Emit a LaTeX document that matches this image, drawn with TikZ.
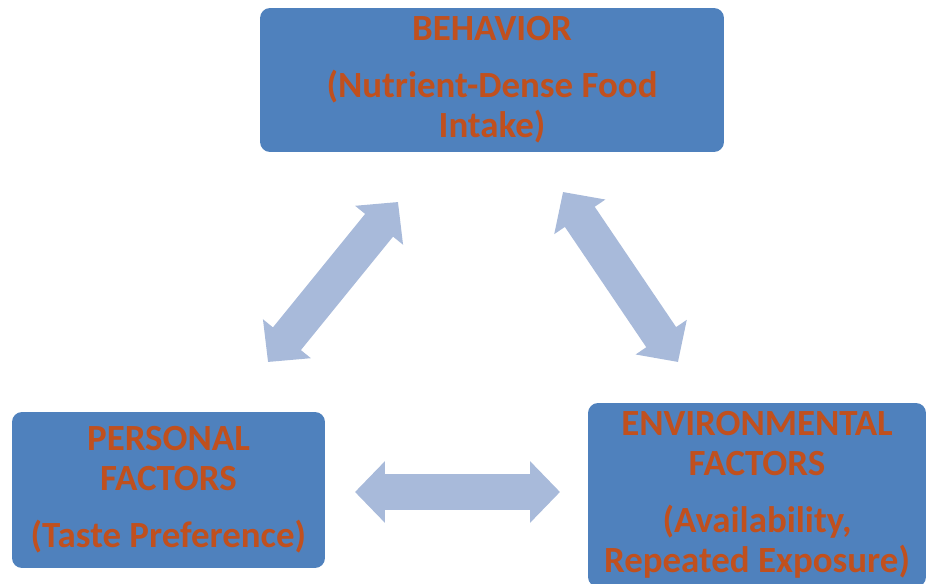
\documentclass[tikz,border=0pt]{standalone}
\usepackage{fontspec}
\setmainfont{Carlito}
\usetikzlibrary{arrows.meta}
\definecolor{boxblue}{RGB}{79,129,189}
\definecolor{txtorange}{RGB}{192,80,30}
\definecolor{arrowblue}{RGB}{168,186,218}
\tikzset{
    factor/.style={rounded corners=0.2cm, fill=boxblue, text=txtorange, align=center,
        font=\bfseries\fontsize{21}{22.8}\selectfont, inner sep=0pt},
    twoway/.style={draw=arrowblue, line width=0.72cm,
        {Triangle[length=0.6cm,width=1.2cm]}-{Triangle[length=0.6cm,width=1.2cm]}}
}
\begin{document}
\begin{tikzpicture}[x=0.02cm,y=-0.02cm]
        \useasboundingbox (0,0) rectangle (926,584);
        \node [factor, minimum width=9.28cm, minimum height=2.88cm] (behavior) at (492,80)
            {BEHAVIOR\\[0.34cm](Nutrient-Dense Food\\Intake)};
        \node [factor, minimum width=6.26cm, minimum height=3.12cm] (personal) at (168.5,490)
            {PERSONAL\\FACTORS\\[0.34cm](Taste Preference)};
        \node [factor, minimum width=6.76cm, minimum height=3.68cm] (environ) at (757,495)
            {ENVIRONMENTAL\\FACTORS\\[0.34cm](Availability,\\Repeated Exposure)};
        % arrow ends
        \coordinate (bp) at (398,202);
        \coordinate (pb) at (268,362);
        \coordinate (be) at (563,192);
        \coordinate (eb) at (678,362);
        \coordinate (pe) at (355,492);
        \coordinate (ep) at (560,492);
        \draw [twoway] (bp) -- (pb);
        \draw [twoway] (be) -- (eb);
        \draw [twoway] (pe) -- (ep);
\end{tikzpicture}
\end{document}
